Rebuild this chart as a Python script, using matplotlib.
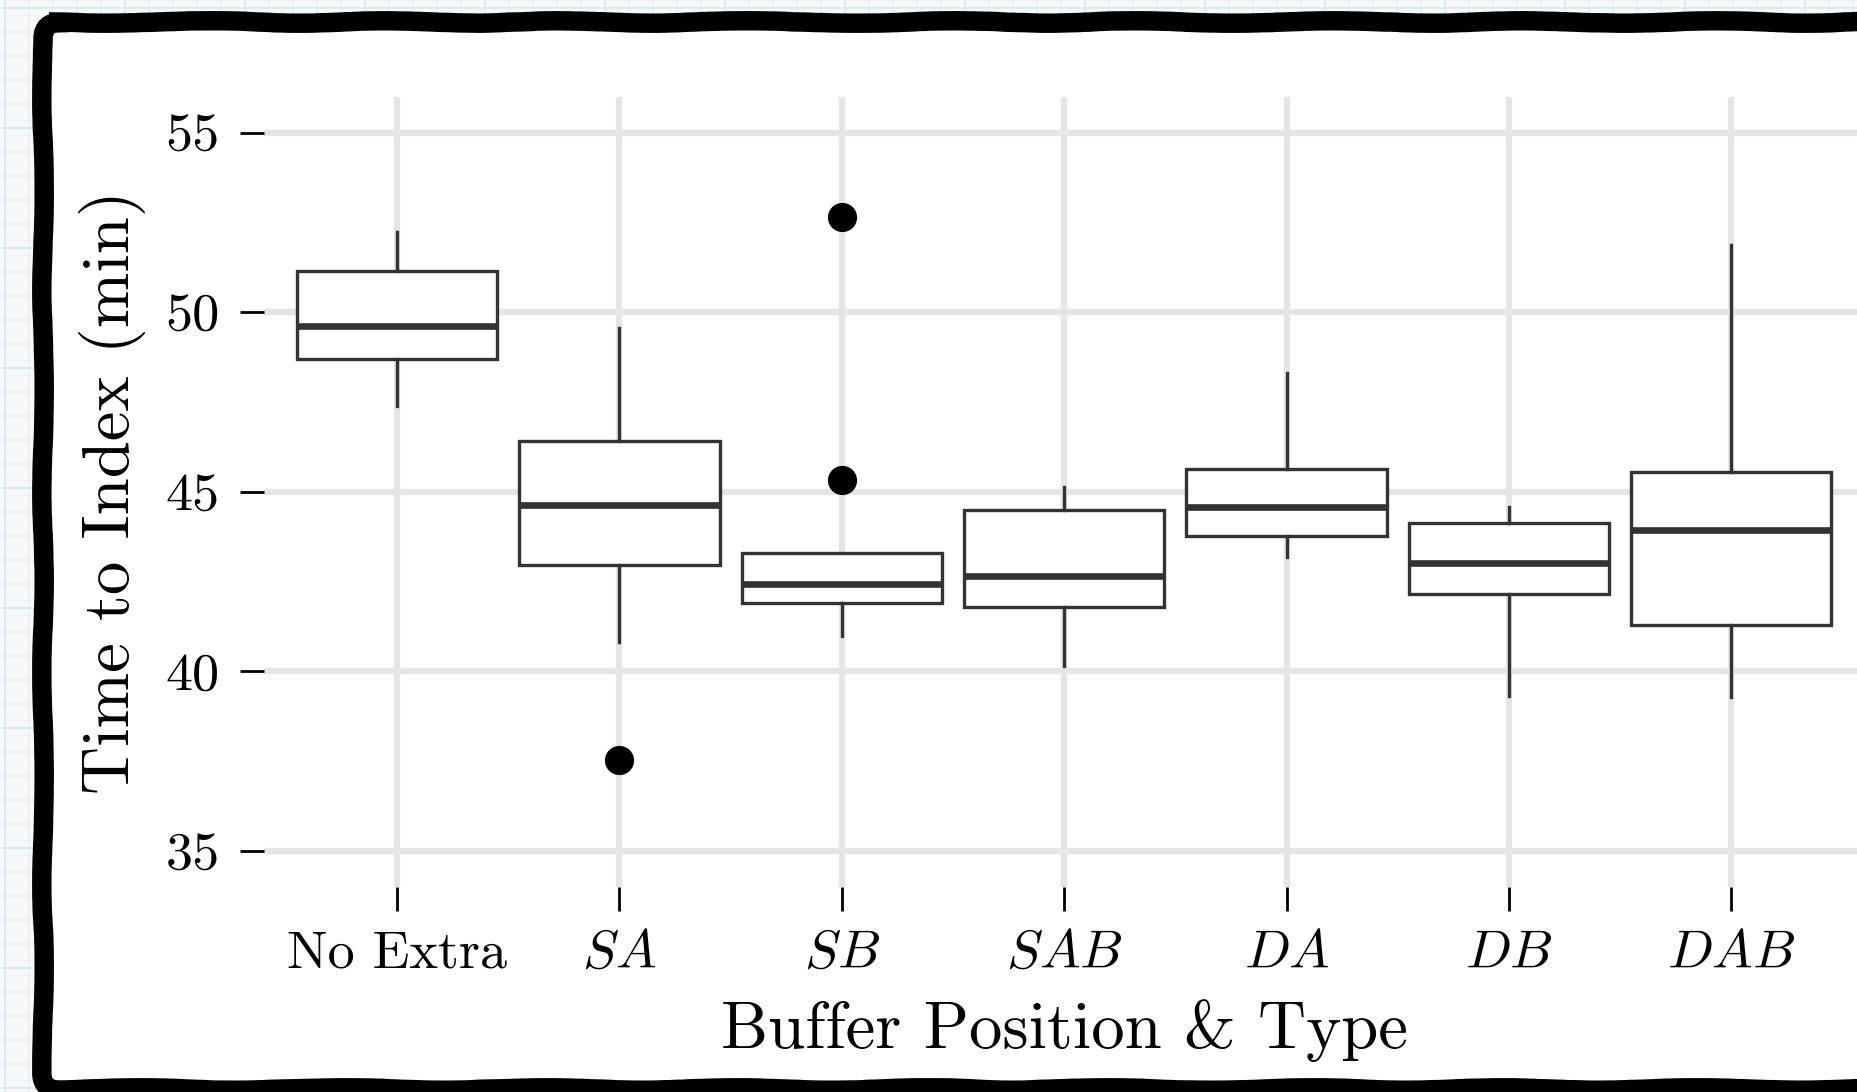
import numpy as np
import matplotlib
matplotlib.use('Agg')
import matplotlib.pyplot as plt
from matplotlib.patches import FancyBboxPatch

# Computer Modern look for all text
plt.rcParams['font.family'] = 'serif'
plt.rcParams['font.serif'] = ['cmr10']
plt.rcParams['mathtext.fontset'] = 'cm'
plt.rcParams['axes.unicode_minus'] = False

# Box statistics per buffer configuration (minutes)
groups = ['No Extra', '$SA$', '$SB$', '$SAB$', '$DA$', '$DB$', '$DAB$']
whisker_lo = [47.38, 40.81, 40.97, 40.15, 43.18, 39.32, 39.29]
q1 = [48.70, 42.95, 41.90, 41.80, 43.78, 42.16, 41.30]
medians = [49.62, 44.64, 42.43, 42.66, 44.57, 43.02, 43.94]
q3 = [51.14, 46.42, 43.28, 44.50, 45.63, 44.14, 45.56]
whisker_hi = [52.23, 49.55, 43.28, 45.13, 48.30, 44.57, 51.86]
outliers = [[], [37.54], [45.33, 52.66], [], [], [], []]

y_ticks = [35, 40, 45, 50, 55]

stats = []
for i, name in enumerate(groups):
    stats.append(dict(label=name, med=medians[i], q1=q1[i], q3=q3[i],
                      whislo=whisker_lo[i], whishi=whisker_hi[i],
                      fliers=outliers[i]))

W, H = 1858, 1092
fig = plt.figure(figsize=(W / 100, H / 100), dpi=100)
fig.patch.set_facecolor('#F7F8FA')

# graph paper backdrop with a hand drawn frame, in pixel units
bg = fig.add_axes([0, 0, 1, 1], zorder=0)
bg.set_xlim(0, W)
bg.set_ylim(H, 0)
bg.axis('off')
for k, x in enumerate(np.arange(5, W, 24)):
    bg.axvline(x, color='#D6EAF3' if k % 5 == 0 else '#E6EFF4', lw=1.2)
for k, y in enumerate(np.arange(8, H, 24)):
    bg.axhline(y, color='#D6EAF3' if k % 5 == 0 else '#E6EFF4', lw=1.2)

frame = FancyBboxPatch((43, 22), 1900, 1067,
                       boxstyle='round,pad=0,rounding_size=16',
                       facecolor='white', edgecolor='black', lw=14,
                       zorder=5)
frame.set_sketch_params(scale=1.2, length=320, randomness=6)
bg.add_patch(frame)

# main panel
ax = fig.add_axes([0.1419, 0.1880, 0.8617, 0.7234], zorder=2)
ax.set_facecolor('white')

box_col = '#333333'
ax.bxp(stats, positions=range(1, len(groups) + 1), widths=0.9,
       patch_artist=True, showcaps=False,
       boxprops=dict(facecolor='white', edgecolor=box_col, linewidth=2.4),
       medianprops=dict(color=box_col, linewidth=4.8, solid_capstyle='butt'),
       whiskerprops=dict(color=box_col, linewidth=2.4),
       flierprops=dict(marker='o', markerfacecolor='black',
                       markeredgecolor='black', markersize=20))

ax.set_xlim(0.4, 7.6)
ax.set_ylim(34, 56)
ax.set_yticks(y_ticks)
ax.set_xticks(range(1, len(groups) + 1), groups)

ax.grid(True, color='#E5E5E5', lw=4.5)
ax.set_axisbelow(True)
for s in ax.spines.values():
    s.set_visible(False)

ax.tick_params(direction='out', length=17.5, width=2.0, color='black',
               labelsize=39)
ax.tick_params(axis='x', pad=14)
ax.tick_params(axis='y', pad=14)

ax.set_xlabel('Buffer Position & Type', fontsize=48)
ax.xaxis.set_label_coords(0.5, -0.182)
ax.xaxis.label.set_va('center')
ax.set_ylabel('Time to Index (min)', fontsize=48)
ax.yaxis.set_label_coords(-0.0943, 0.5)
ax.yaxis.label.set_va('center')

fig.savefig('out.png', dpi=100)
